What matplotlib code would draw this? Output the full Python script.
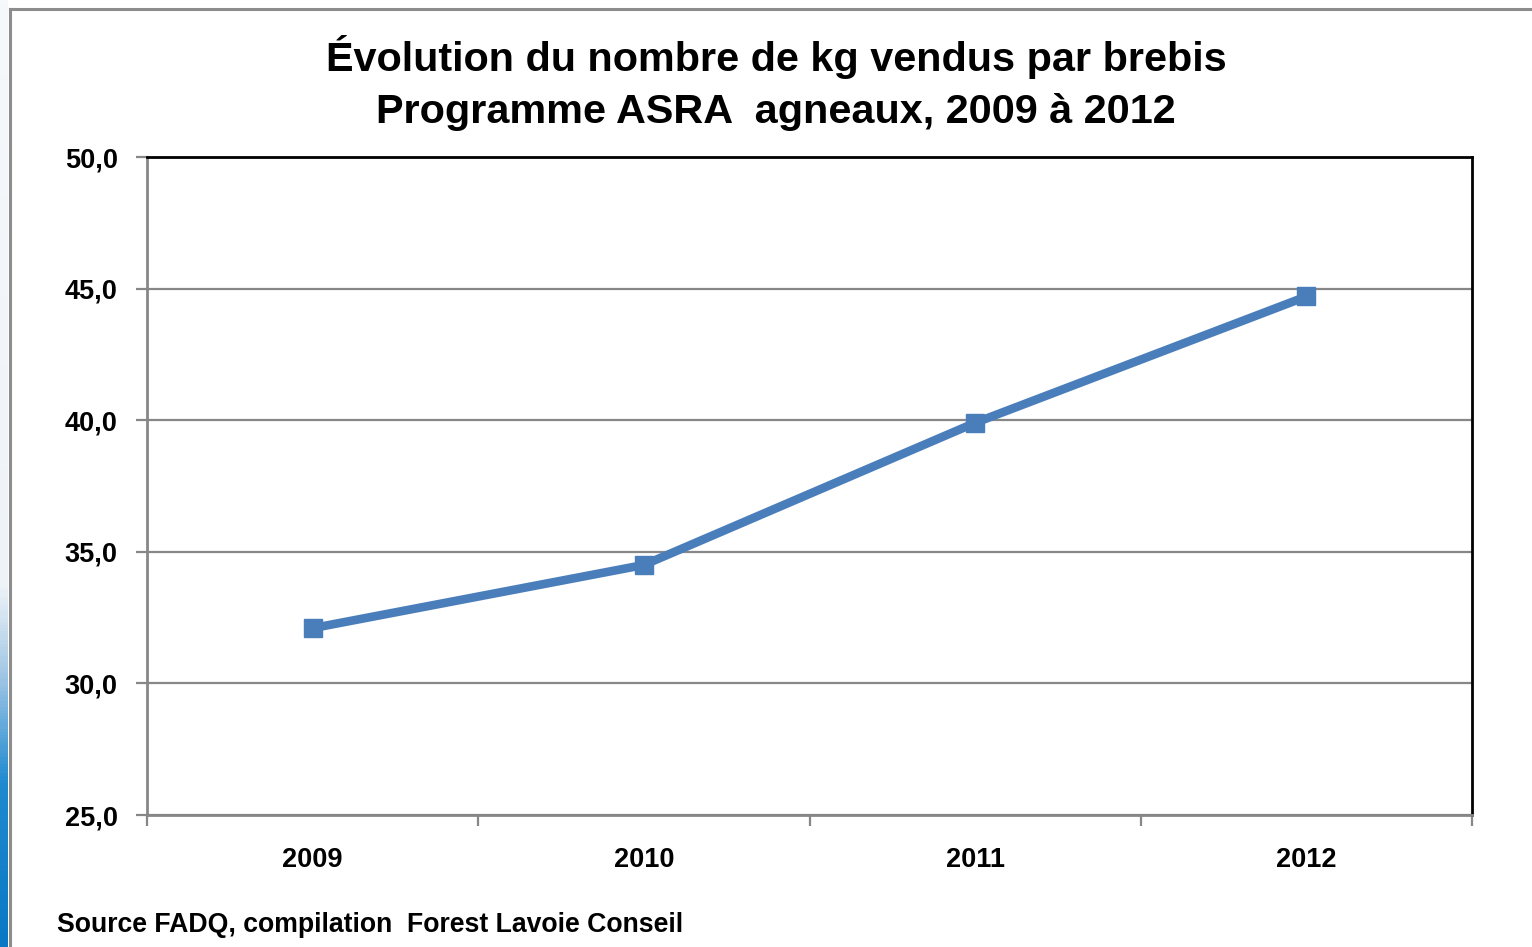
import numpy as np
import matplotlib
matplotlib.use('Agg')
import matplotlib.pyplot as plt
from matplotlib.lines import Line2D
from matplotlib.ticker import FuncFormatter, FixedLocator
from matplotlib.colors import LinearSegmentedColormap

plt.rcParams['font.family'] = ['Liberation Sans Narrow', 'Liberation Sans', 'DejaVu Sans']
plt.rcParams['font.weight'] = 'bold'

years = ['2009', '2010', '2011', '2012']
kg_per_ewe = [32.1, 34.5, 39.9, 44.7]
y_ticks = [25, 30, 35, 40, 45, 50]

W, H = 1532, 947
fig = plt.figure(figsize=(W / 100, H / 100), dpi=100)
fig.patch.set_facecolor('white')

# blue strip on the far left
strip = fig.add_axes([0, 0, 8 / W, 1])
grad = np.linspace(0, 1, 300).reshape(-1, 1)
cmap = LinearSegmentedColormap.from_list('strip', [(0, '#0a78c4'), (0.17, '#1e8ad0'), (0.28, '#9cc4e4'),
                                                   (0.38, '#eef3f8'), (1, '#f6f8fb')])
strip.imshow(grad, aspect='auto', cmap=cmap, origin='lower')
strip.axis('off')

# frame of the slide
fig.add_artist(Line2D([9.5 / W, 9.5 / W], [0, 1 - 9.5 / H], color='#8c8c8c', lw=2.2))
fig.add_artist(Line2D([9.5 / W, 1], [1 - 9.5 / H, 1 - 9.5 / H], color='#8c8c8c', lw=2.2))

ax = fig.add_axes([147 / W, 1 - 815 / H, (1472 - 147) / W, (815 - 157) / H])
x = np.arange(len(years))
ax.plot(x, kg_per_ewe, color='#4a7ebb', lw=6.2, marker='s', markersize=12.5,
        solid_capstyle='butt', zorder=3)

ax.set_xlim(-0.5, len(years) - 0.5)
ax.set_ylim(25, 50)
ax.set_yticks(y_ticks)
ax.yaxis.set_major_formatter(FuncFormatter(lambda v, p: f'{v:.1f}'.replace('.', ',')))
ax.grid(axis='y', color='#878787', lw=1.6)
ax.set_axisbelow(True)

ax.set_xticks(x)
ax.set_xticklabels(years)
ax.xaxis.set_minor_locator(FixedLocator(np.arange(-0.5, len(years), 1.0)))
ax.tick_params(axis='x', which='major', length=0, pad=23, labelsize=19.5)
ax.tick_params(axis='x', which='minor', length=8, width=1.6, color='#878787', direction='out')
ax.tick_params(axis='y', length=8, width=1.6, color='#878787', pad=13, labelsize=19.5)

for side in ['left', 'bottom']:
    ax.spines[side].set_color('#878787')
    ax.spines[side].set_linewidth(2)
for side in ['top', 'right']:
    ax.spines[side].set_color('black')
    ax.spines[side].set_linewidth(2)

fig.text(776 / W, 1 - 57 / H, 'Évolution du nombre de kg vendus par brebis',
         ha='center', va='center', fontsize=29.8, fontweight='bold')
fig.text(776 / W, 1 - 112 / H, 'Programme ASRA  agneaux, 2009 à 2012',
         ha='center', va='center', fontsize=29.8, fontweight='bold')
fig.text(57 / W, 1 - 925 / H, 'Source FADQ, compilation  Forest Lavoie Conseil',
         ha='left', va='center', fontsize=19.2, fontweight='bold')

fig.savefig('out.png', dpi=100)
